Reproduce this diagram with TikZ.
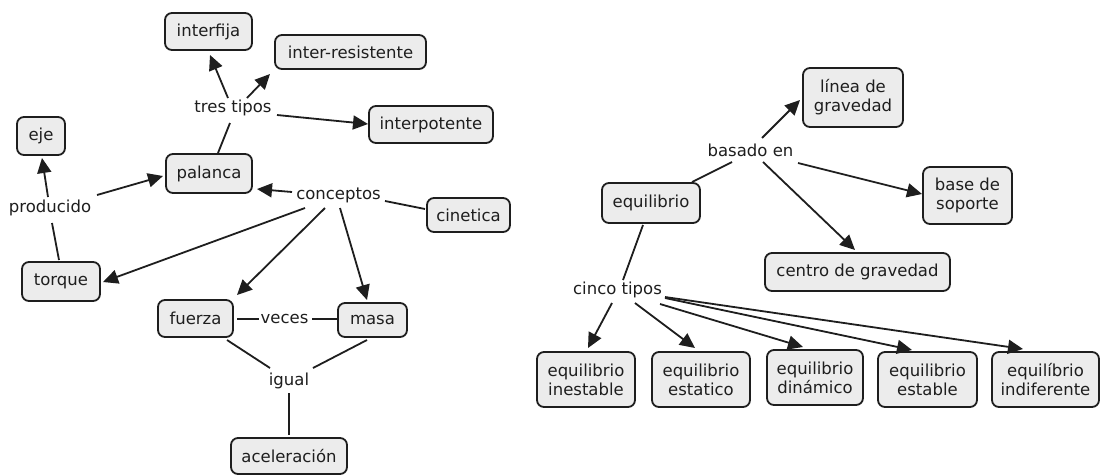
\documentclass[tikz,border=0pt]{standalone}
\usepackage{fontspec}
\setmainfont{DejaVu Sans}
\usetikzlibrary{arrows.meta}
\definecolor{boxfill}{RGB}{236,236,236}
\definecolor{ink}{RGB}{30,30,30}
\tikzset{
  concept/.style={draw=ink, fill=boxfill, line width=1.8pt, rounded corners=7pt,
    align=center, inner sep=0pt, text=ink, font=\fontsize{16.5}{19}\selectfont},
  linkword/.style={inner sep=1pt, text=ink, font=\fontsize{16.5}{19}\selectfont},
  conn/.style={draw=ink, line width=1.8pt},
  arr/.style={conn, -{Triangle[length=15pt,width=14pt]}}
}
\begin{document}
\begin{tikzpicture}[x=1pt,y=-1pt]
\useasboundingbox[fill=white] (0,0) rectangle (1102,475);
% left map
\node[concept, minimum width=87pt, minimum height=37pt] (interfija) at (208.5,31.5) {interfija};
\node[concept, minimum width=151pt, minimum height=34pt] (interres) at (350.5,52) {inter-resistente};
\node[concept, minimum width=124pt, minimum height=37pt] (interpot) at (431,124.5) {interpotente};
\node[concept, minimum width=48pt, minimum height=38pt] (eje) at (41,136) {eje};
\node[concept, minimum width=86pt, minimum height=39pt] (palanca) at (209,173.5) {palanca};
\node[concept, minimum width=83pt, minimum height=34pt] (cinetica) at (468.5,215) {cinetica};
\node[concept, minimum width=78pt, minimum height=39pt] (torque) at (61,281.5) {torque};
\node[concept, minimum width=75pt, minimum height=37pt] (fuerza) at (195.5,318.5) {fuerza};
\node[concept, minimum width=69pt, minimum height=34pt] (masa) at (372.5,320) {masa};
\node[concept, minimum width=116pt, minimum height=36pt] (acel) at (289,456) {aceleración};
\node[linkword] (tres) at (233,108) {tres tipos};
\node[linkword] (producido) at (50,208) {producido};
\node[linkword] (conceptos) at (338.5,195) {conceptos};
\node[linkword] (veces) at (284.5,319) {veces};
\node[linkword] (igual) at (289,381) {igual};
% right map
\node[concept, minimum width=100pt, minimum height=59pt] (linea) at (853,97.5) {línea de\\gravedad};
\node[concept, minimum width=98pt, minimum height=40pt] (equilibrio) at (651,203) {equilibrio};
\node[concept, minimum width=89pt, minimum height=57pt] (base) at (967.5,195.5) {base de\\soporte};
\node[concept, minimum width=185pt, minimum height=38pt] (centro) at (857.5,272) {centro de gravedad};
\node[concept, minimum width=98pt, minimum height=55pt] (inestable) at (586,379.5) {equilibrio\\inestable};
\node[concept, minimum width=98pt, minimum height=55pt] (estatico) at (701,379.5) {equilibrio\\estatico};
\node[concept, minimum width=96pt, minimum height=55pt] (dinamico) at (815,377.5) {equilibrio\\dinámico};
\node[concept, minimum width=99pt, minimum height=55pt] (estable) at (927.5,379.5) {equilibrio\\estable};
\node[concept, minimum width=107pt, minimum height=55pt] (indif) at (1045.5,379.5) {equilíbrio\\indiferente};
\node[linkword] (basado) at (750.5,150.5) {basado en};
\node[linkword] (cinco) at (617.5,290) {cinco tipos};
% connectors, left
\draw[conn] ([shift={(9,-20.5)}]palanca.center) -- ([shift={(-3,15)}]tres.center);
\draw[arr] ([shift={(-5,-10)}]tres.center) -- ([shift={(1.5,23.5)}]interfija.center);
\draw[arr] ([shift={(14,-10)}]tres.center) -- ([shift={(-80.5,22)}]interres.center);
\draw[arr] ([shift={(44,7)}]tres.center) -- ([shift={(-63,-0.5)}]interpot.center);
\draw[arr] ([shift={(-2,-11)}]producido.center) -- ([shift={(1,22)}]eje.center);
\draw[arr] ([shift={(47,-13)}]producido.center) -- ([shift={(-46,2.5)}]palanca.center);
\draw[conn] ([shift={(-2,-21.5)}]torque.center) -- ([shift={(2,15)}]producido.center);
\draw[arr] ([shift={(-46.5,-3)}]conceptos.center) -- ([shift={(48,15.5)}]palanca.center);
\draw[conn] ([shift={(46.5,6)}]conceptos.center) -- ([shift={(-43.5,-6)}]cinetica.center);
\draw[arr] ([shift={(-33.5,13)}]conceptos.center) -- ([shift={(42,0.5)}]torque.center);
\draw[arr] ([shift={(-13.5,13)}]conceptos.center) -- ([shift={(41.5,-23.5)}]fuerza.center);
\draw[arr] ([shift={(1.5,13)}]conceptos.center) -- ([shift={(-5.5,-20)}]masa.center);
\draw[conn] ([shift={(41.5,0.5)}]fuerza.center) -- ([shift={(-25.5,0)}]veces.center);
\draw[conn] ([shift={(27.5,0)}]veces.center) -- ([shift={(-35.5,-1)}]masa.center);
\draw[conn] ([shift={(31.5,21.5)}]fuerza.center) -- ([shift={(-19,-13)}]igual.center);
\draw[conn] ([shift={(-5.5,20)}]masa.center) -- ([shift={(24,-13)}]igual.center);
\draw[conn] ([shift={(0,12)}]igual.center) -- ([shift={(0,-21)}]acel.center);
% connectors, right
\draw[conn] ([shift={(41,-21)}]equilibrio.center) -- ([shift={(-18.5,11.5)}]basado.center);
\draw[arr] ([shift={(11.5,-12.5)}]basado.center) -- ([shift={(-53,2.5)}]linea.center);
\draw[arr] ([shift={(47.5,12.5)}]basado.center) -- ([shift={(-45.5,-1.5)}]base.center);
\draw[arr] ([shift={(12.5,11.5)}]basado.center) -- ([shift={(-2.5,-22)}]centro.center);
\draw[conn] ([shift={(-8,22)}]equilibrio.center) -- ([shift={(5.5,-10)}]cinco.center);
\draw[arr] ([shift={(-5.5,13)}]cinco.center) -- ([shift={(2,-31.5)}]inestable.center);
\draw[arr] ([shift={(17.5,13)}]cinco.center) -- ([shift={(-6,-31.5)}]estatico.center);
\draw[arr] ([shift={(42.5,14)}]cinco.center) -- ([shift={(-12,-30.5)}]dinamico.center);
\draw[arr] ([shift={(47.5,8)}]cinco.center) -- ([shift={(-15.5,-29.5)}]estable.center);
\draw[arr] ([shift={(47.5,7)}]cinco.center) -- ([shift={(-22.5,-30.5)}]indif.center);
\end{tikzpicture}
\end{document}
